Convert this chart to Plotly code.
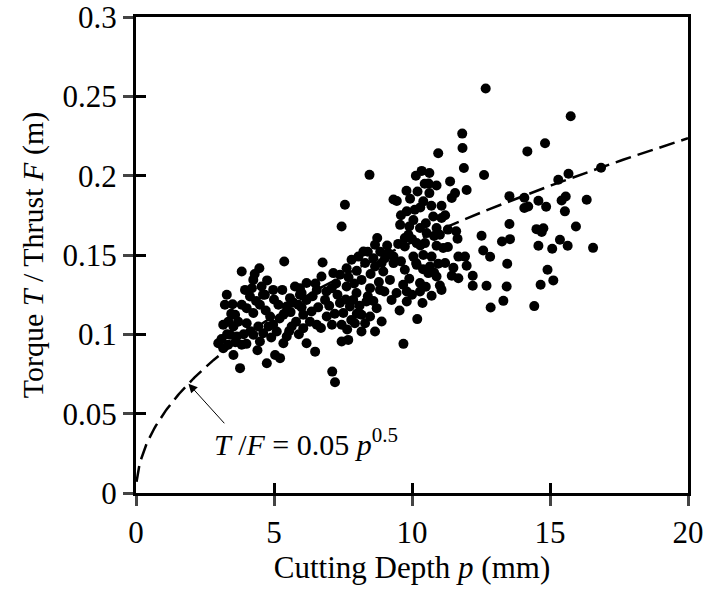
import plotly.graph_objects as go
import numpy as np

# Cutting depth p (mm) and torque/thrust ratio T/F (m)
depth = [
    5.37, 3.83, 4.47, 4.25, 4.55, 4.97, 5.76, 6.18, 3.29, 4.13, 4.67, 5.58, 5.94, 3.22, 3.83, 4.01, 4.49, 5.16, 5.46, 5.88,
    3.59, 4.25, 4.86, 5.34, 6.06, 3.16, 3.53, 4.01, 4.43, 4.97, 5.10, 5.64, 6.06, 3.41, 3.65, 4.25, 4.61, 5.46, 2.98, 3.16,
    3.34, 3.83, 4.49, 5.34, 6.18, 3.53, 5.04, 5.22, 4.74, 3.77,
    3.95, 4.35, 4.70, 3.70, 4.15, 3.45, 3.90, 4.80, 5.20, 5.60, 5.00, 5.30, 5.70, 6.00, 3.30, 3.10, 4.40, 4.90, 5.80, 5.55,
    4.00, 3.60, 4.60, 4.20, 3.50, 3.35, 5.90, 4.75, 4.30,
    7.57, 7.45, 8.74, 8.66, 8.24, 8.06, 7.81, 6.76, 9.14, 9.02, 8.60, 8.66, 7.63, 7.15, 7.39, 6.72, 8.17, 8.96, 9.20, 5.94,
    6.55, 7.09, 7.63, 7.99, 8.48, 8.84, 6.18, 6.85, 7.39, 7.87, 7.75, 8.35, 9.26, 8.72, 6.36, 6.91, 7.51, 8.17, 8.48, 6.55,
    7.45, 7.93, 8.17, 8.66, 8.90, 7.45, 7.69, 6.49, 7.11, 7.21, 8.46,
    6.40, 6.90, 7.25, 7.70, 8.00, 8.30, 8.50, 7.30, 7.60, 8.10, 8.40, 8.80, 9.00, 6.60, 7.00, 7.20, 7.80, 8.00, 8.60, 6.30,
    6.70, 7.10, 7.65, 8.30, 6.00, 6.50, 7.90, 8.90, 9.10, 8.85, 8.40,
    11.82, 11.83, 10.95, 11.88, 10.14, 10.35, 10.63, 11.38, 10.46, 10.89, 11.56, 11.44, 11.98, 10.63, 9.80, 9.33, 9.45, 9.93,
    10.41, 11.07, 9.81, 10.10, 9.57, 10.05, 10.77, 11.07, 10.29, 10.89, 9.87, 10.53, 11.01, 11.65, 9.33, 9.74, 9.74, 10.17,
    10.47, 10.89, 11.13, 10.05, 10.41, 10.71, 11.68, 11.92, 11.98, 9.33, 9.74, 10.17, 10.65, 10.95, 10.59, 10.89, 11.44, 11.68,
    9.68, 10.29, 11.01, 9.44, 9.81, 10.29, 11.07, 9.81, 10.71, 10.38, 10.19, 9.69,
    9.60, 9.90, 10.30, 10.70, 10.50, 10.00, 10.30, 10.80, 11.30, 11.20, 10.60, 10.20, 9.60, 9.90, 10.40, 10.80, 11.20, 10.50,
    11.50, 9.55, 10.00, 9.50, 10.15, 11.30, 11.60,
    12.67, 15.75, 14.82, 14.18, 12.61, 15.30, 15.67, 16.85, 13.53, 14.07, 14.07, 14.21, 14.58, 14.86, 15.42, 15.57, 15.54,
    16.33, 13.53, 12.52, 13.26, 13.55, 14.51, 14.76, 14.70, 15.94, 14.58, 15.08, 15.36, 15.64, 16.56, 12.58, 12.83, 13.45,
    12.20, 12.20, 12.70, 13.43, 14.91, 14.66, 15.12, 13.31, 12.85, 14.43, 14.78,
]
ratio = [
    0.1459, 0.1396, 0.1417, 0.1343, 0.1302, 0.1280, 0.1302, 0.1323, 0.1249, 0.1238, 0.1249, 0.1228, 0.1249, 0.1186, 0.1186,
    0.1165, 0.1186, 0.1186, 0.1175, 0.1186, 0.1123, 0.1134, 0.1112, 0.1123, 0.1123, 0.1060, 0.1049, 0.1070, 0.1049, 0.1060,
    0.1018, 0.1049, 0.1039, 0.0997, 0.0986, 0.0997, 0.1007, 0.0986, 0.0944, 0.0913, 0.0934, 0.0934, 0.0955, 0.0944, 0.0944,
    0.0870, 0.0870, 0.0850, 0.0818, 0.0787,
    0.1280, 0.1210, 0.1150, 0.1080, 0.1020, 0.1130, 0.1000, 0.1050, 0.1100, 0.1140, 0.1220, 0.1280, 0.1200, 0.1170, 0.1000,
    0.0970, 0.0900, 0.0980, 0.1080, 0.1020, 0.0940, 0.0950, 0.1250, 0.1290, 0.1190, 0.1080, 0.1000, 0.1340, 0.1380,
    0.1817, 0.1680, 0.1607, 0.1565, 0.1522, 0.1490, 0.1470, 0.1453, 0.1512, 0.1480, 0.1480, 0.1428, 0.1417, 0.1386, 0.1375,
    0.1365, 0.1343, 0.1396, 0.1343, 0.1291, 0.1280, 0.1291, 0.1302, 0.1260, 0.1291, 0.1280, 0.1217, 0.1217, 0.1197, 0.1217,
    0.1175, 0.1207, 0.1217, 0.1165, 0.1144, 0.1112, 0.1134, 0.1123, 0.1112, 0.1060, 0.1060, 0.1070, 0.1018, 0.1018, 0.1081,
    0.0955, 0.0965, 0.0891, 0.0765, 0.0698, 0.2005,
    0.1240, 0.1270, 0.1320, 0.1360, 0.1400, 0.1450, 0.1380, 0.1250, 0.1220, 0.1180, 0.1240, 0.1330, 0.1270, 0.1170, 0.1180,
    0.1130, 0.1090, 0.1130, 0.1210, 0.1080, 0.1040, 0.1060, 0.1030, 0.1070, 0.1260, 0.1320, 0.1320, 0.1450, 0.1560, 0.1520,
    0.1520,
    0.2265, 0.2174, 0.2141, 0.2048, 0.2000, 0.2030, 0.2017, 0.1964, 0.1949, 0.1938, 0.1890, 0.1860, 0.1910, 0.1890, 0.1905,
    0.1850, 0.1840, 0.1855, 0.1838, 0.1810, 0.1775, 0.1785, 0.1690, 0.1720, 0.1743, 0.1733, 0.1670, 0.1670, 0.1628, 0.1638,
    0.1628, 0.1602, 0.1490, 0.1607, 0.1554, 0.1575, 0.1575, 0.1558, 0.1544, 0.1490, 0.1500, 0.1490, 0.1490, 0.1490, 0.1432,
    0.1449, 0.1407, 0.1438, 0.1428, 0.1445, 0.1386, 0.1365, 0.1369, 0.1354, 0.1312, 0.1323, 0.1308, 0.1260, 0.1270, 0.1270,
    0.1280, 0.1207, 0.1243, 0.1197, 0.1096, 0.0940,
    0.1750, 0.1680, 0.1800, 0.1810, 0.1700, 0.1600, 0.1560, 0.1620, 0.1660, 0.1750, 0.1950, 0.1900, 0.1460, 0.1350, 0.1410,
    0.1390, 0.1450, 0.1300, 0.1420, 0.1150, 0.1250, 0.1570, 0.1450, 0.1550, 0.1650,
    0.2549, 0.2374, 0.2204, 0.2153, 0.2004, 0.1974, 0.2012, 0.2050, 0.1871, 0.1861, 0.1796, 0.1806, 0.1842, 0.1804, 0.1844,
    0.1869, 0.1775, 0.1848, 0.1695, 0.1621, 0.1585, 0.1600, 0.1663, 0.1669, 0.1645, 0.1680, 0.1558, 0.1539, 0.1596, 0.1558,
    0.1545, 0.1528, 0.1489, 0.1445, 0.1369, 0.1306, 0.1306, 0.1302, 0.1407, 0.1312, 0.1340, 0.1211, 0.1169, 0.1178,
]

# Fitted relation T/F = 0.05 p^0.5
fit_coef = 0.05
fit_exp = 0.5
fit_p = np.linspace(0.02, 20, 400)
fit_r = fit_coef * fit_p ** fit_exp

x_ticks = [0, 5, 10, 15, 20]
y_ticks = [0, 0.05, 0.1, 0.15, 0.2, 0.25, 0.3]
y_tick_text = ["0", "0.05", "0.1", "0.15", "0.2", "0.25", "0.3"]

FONT = "Liberation Serif, Times New Roman, serif"

fig = go.Figure()
fig.add_trace(go.Scatter(x=fit_p, y=fit_r, mode="lines",
                         line=dict(color="black", width=2.5, dash="16px,7px"),
                         showlegend=False, hoverinfo="skip"))
fig.add_trace(go.Scatter(x=depth, y=ratio, mode="markers",
                         marker=dict(color="black", size=10),
                         showlegend=False))
# helper trace for the inner tick axes
fig.add_trace(go.Scatter(x=[None], y=[None], xaxis="x2", yaxis="y2", showlegend=False))

fig.update_layout(
    width=707, height=592,
    margin=dict(l=136, r=19, t=17, b=99, autoexpand=False),
    paper_bgcolor="white", plot_bgcolor="white",
    font=dict(family=FONT, size=31, color="black"),
    xaxis=dict(range=[0, 20], tickvals=x_ticks, ticks="outside", ticklen=10, tickwidth=3,
               showline=True, linewidth=3, linecolor="black", mirror=True, showgrid=False,
               zeroline=False, tickfont=dict(size=31), ticklabeloverflow="allow",
               title=dict(text="Cutting Depth <i>p</i> (mm)", font=dict(size=31), standoff=8)),
    yaxis=dict(range=[0, 0.3], tickvals=y_ticks, ticktext=y_tick_text, ticks="outside", ticklen=10,
               tickwidth=3, showline=True, linewidth=3, linecolor="black", mirror=True,
               showgrid=False, zeroline=False, tickfont=dict(size=31), ticklabeloverflow="allow",
               title=dict(text="Torque <i>T</i> / Thrust <i>F</i> (m)", font=dict(size=30), standoff=11)),
    xaxis2=dict(range=[0, 20], overlaying="x", side="bottom", anchor="y2", tickvals=x_ticks,
                ticks="inside", ticklen=10, tickwidth=3, tickcolor="black", showticklabels=False,
                showgrid=False, zeroline=False, showline=False),
    yaxis2=dict(range=[0, 0.3], overlaying="y", side="left", anchor="x2", tickvals=y_ticks,
                ticks="inside", ticklen=10, tickwidth=3, tickcolor="black", showticklabels=False,
                showgrid=False, zeroline=False, showline=False),
)

arrow_p = 1.9
fig.add_annotation(x=arrow_p, y=fit_coef * arrow_p ** fit_exp, ax=3.25, ay=0.043,
                   axref="x", ayref="y", xref="x", yref="y", text="",
                   showarrow=True, arrowhead=2, arrowsize=1.8, arrowwidth=1, arrowcolor="black")
fig.add_annotation(x=2.75, y=0.032, xref="x", yref="y", xanchor="left", yanchor="middle",
                   text="<i>T</i> /<i>F</i> = 0.05 <i>p</i><sup>0.5</sup>", showarrow=False,
                   font=dict(family=FONT, size=30, color="black"))

fig.write_html("out.html")
